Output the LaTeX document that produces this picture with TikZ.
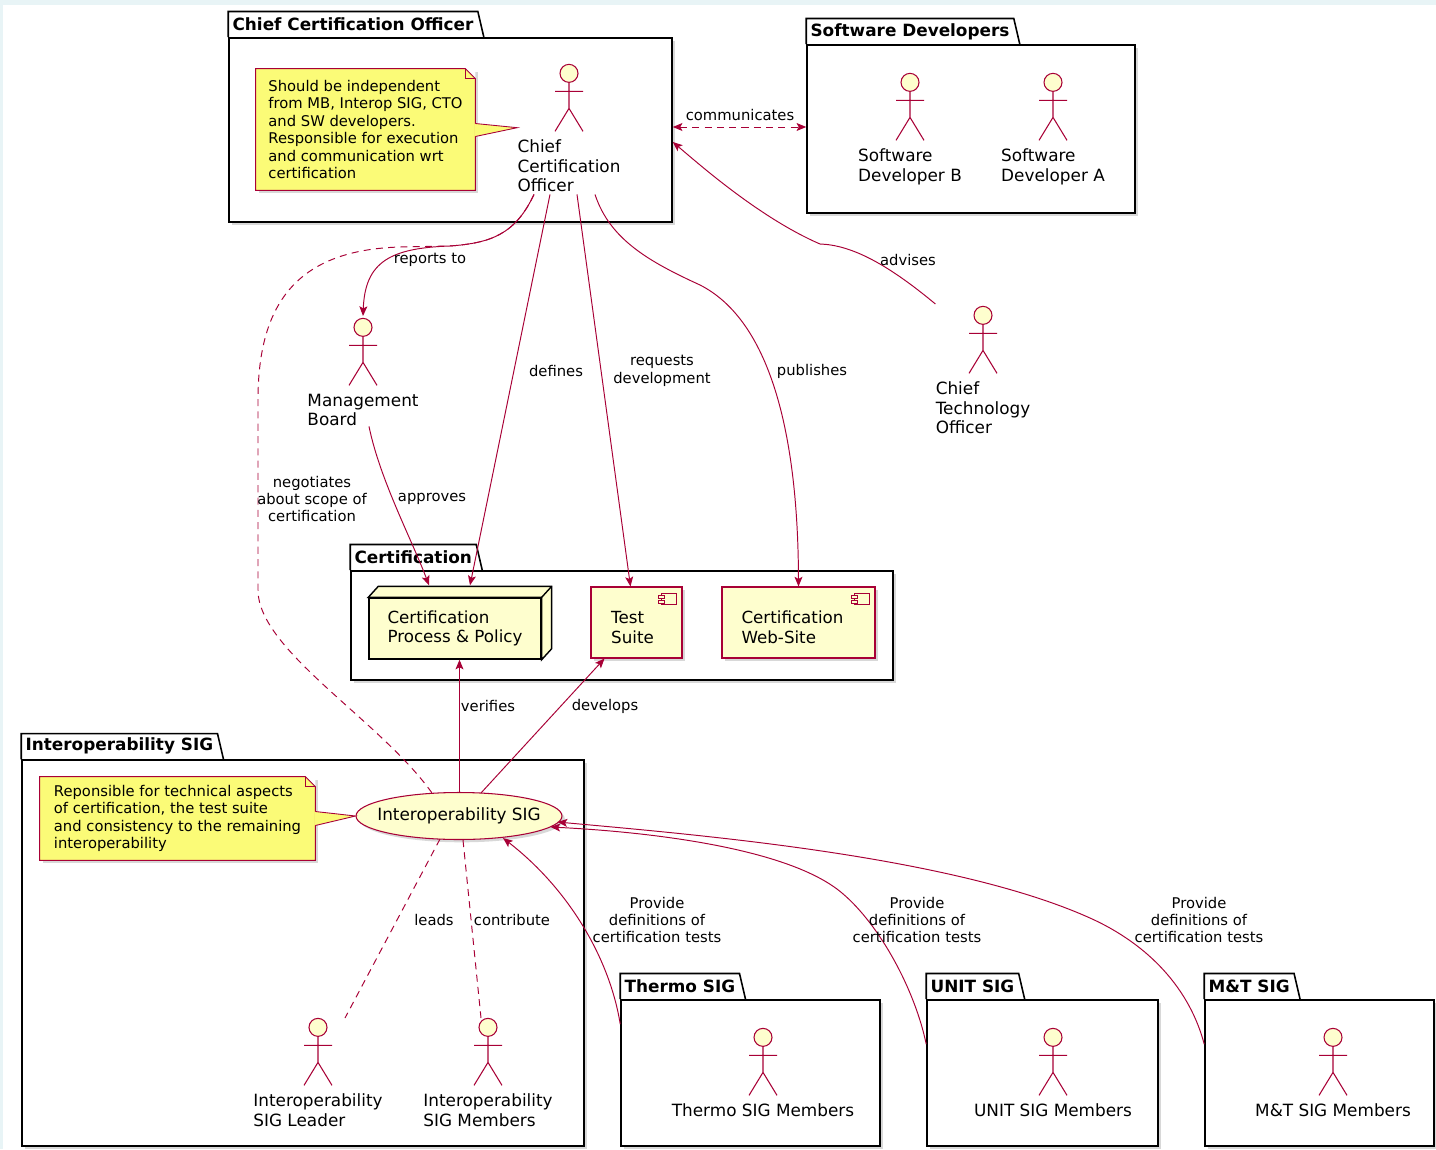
\documentclass[tikz,border=0pt]{standalone}
\usepackage{fontspec}
\setmainfont{DejaVu Sans}
\usepackage{tikz}
\usetikzlibrary{positioning,calc,shapes.geometric,shadows,arrows.meta}

\definecolor{umlred}{HTML}{A80036}
\definecolor{umlfill}{HTML}{FEFECE}
\definecolor{notefill}{HTML}{FBFB77}
\definecolor{bgframe}{HTML}{E8F4F6}

\tikzset{
	>={Stealth[length=5.5pt,width=4.5pt,inset=1.2pt]},
	ushadow/.style={drop shadow={shadow xshift=1.6pt,shadow yshift=-1.6pt,opacity=0.3}},
	pkgbody/.style={draw=black,fill=white,line width=0.9pt,inner sep=0pt,ushadow},
	pkgtitle/.style={font=\fontsize{9.6}{11}\selectfont\bfseries,inner xsep=0.08cm,inner ysep=0pt,minimum height=0.5cm,anchor=south west},
	pkgline/.style={draw=black,line width=0.9pt},
	actor/.style={minimum width=0.64cm,minimum height=1.42cm,inner sep=0pt,anchor=north,
		path picture={
			\draw[umlred,line width=0.6pt] ([shift={(0,20)}]path picture bounding box.north) -- ++(0,26) -- ++(-14,23) ++(14,-23) -- ++(14,23) ([shift={(-14,29)}]path picture bounding box.north) -- ++(28,0);
			\draw[umlred,fill=umlfill,line width=0.6pt] ([shift={(0,11)}]path picture bounding box.north) circle[radius=0.18cm];
		}},
	actorname/.style={font=\fontsize{9.6}{11.1}\selectfont,align=left,inner sep=0pt},
	comp/.style={draw=umlred,fill=umlfill,line width=0.6pt,ushadow,
		path picture={
			\draw[umlred,fill=umlfill,line width=0.5pt] ([shift={(-21,6)}]path picture bounding box.north east) rectangle ++(15,11);
			\draw[umlred,fill=umlfill,line width=0.5pt] ([shift={(-24,8)}]path picture bounding box.north east) rectangle ++(6,3);
			\draw[umlred,fill=umlfill,line width=0.5pt] ([shift={(-24,13)}]path picture bounding box.north east) rectangle ++(6,3);
		}},
	comptext/.style={align=left,inner sep=0pt,font=\fontsize{9.5}{11.1}\selectfont},
	usecase/.style={ellipse,draw=umlred,fill=umlfill,line width=0.6pt,inner sep=0pt,ushadow},
	umlnote/.style={fill=notefill,inner sep=0pt,align=left,font=\fontsize{8.4}{9.9}\selectfont,ushadow},
	noteline/.style={draw=umlred,line width=0.5pt},
	uline/.style={draw=umlred,line width=0.55pt},
	udash/.style={dash pattern=on 4pt off 3pt},
	elabel/.style={font=\fontsize{8.4}{9.9}\selectfont,align=center,inner sep=0pt},
}

\begin{document}
\begin{tikzpicture}[x=0.02cm,y=-0.02cm]
	\useasboundingbox (0,0) rectangle (1436,1149);
	\fill[bgframe] (0,0) rectangle (1436,1149);
	\fill[white] (3,5) rectangle (1436,1149);

	\node[pkgbody,minimum width=8.86cm,minimum height=3.68cm] (ccopkg) at (450.5,130) {};
	\node[pkgtitle] (ccotab) at (ccopkg.north west) {Chief Certification Officer};
	\draw[pkgline] (ccotab.south west) |- (ccotab.north east) -- ([shift={(6,0)}]ccotab.south east);
	\node[pkgbody,minimum width=6.56cm,minimum height=3.36cm] (sdpkg) at (971,129) {};
	\node[pkgtitle] (sdtab) at (sdpkg.north west) {Software Developers};
	\draw[pkgline] (sdtab.south west) |- (sdtab.north east) -- ([shift={(6,0)}]sdtab.south east);
	\node[pkgbody,minimum width=10.84cm,minimum height=2.18cm] (certpkg) at (622,625.5) {};
	\node[pkgtitle] (certtab) at (certpkg.north west) {Certification};
	\draw[pkgline] (certtab.south west) |- (certtab.north east) -- ([shift={(6,0)}]certtab.south east);
	\node[pkgbody,minimum width=11.24cm,minimum height=7.72cm] (isigpkg) at (303,953) {};
	\node[pkgtitle] (isigtab) at (isigpkg.north west) {Interoperability SIG};
	\draw[pkgline] (isigtab.south west) |- (isigtab.north east) -- ([shift={(6,0)}]isigtab.south east);
	\node[pkgbody,minimum width=5.18cm,minimum height=2.92cm] (thermopkg) at (750.5,1073) {};
	\node[pkgtitle] (thermotab) at (thermopkg.north west) {Thermo SIG};
	\draw[pkgline] (thermotab.south west) |- (thermotab.north east) -- ([shift={(6,0)}]thermotab.south east);
	\node[pkgbody,minimum width=4.62cm,minimum height=2.92cm] (unitpkg) at (1042.5,1073) {};
	\node[pkgtitle] (unittab) at (unitpkg.north west) {UNIT SIG};
	\draw[pkgline] (unittab.south west) |- (unittab.north east) -- ([shift={(6,0)}]unittab.south east);
	\node[pkgbody,minimum width=4.58cm,minimum height=2.92cm] (mtpkg) at (1319.5,1073) {};
	\node[pkgtitle] (mttab) at (mtpkg.north west) {M\&T SIG};
	\draw[pkgline] (mttab.south west) |- (mttab.north east) -- ([shift={(6,0)}]mttab.south east);

	\node[actor] (cco) at (569,62) {};
	\node[actorname,below=0.12cm of cco] (ccolab) {Chief\\Certification\\Officer};
	\node[actor] (sdb) at (910,71) {};
	\node[actorname,below=0.12cm of sdb] (sdblab) {Software\\Developer B};
	\node[actor] (sda) at (1053,71) {};
	\node[actorname,below=0.12cm of sda] (sdalab) {Software\\Developer A};
	\node[actor] (cto) at (983,304) {};
	\node[actorname,below=0.12cm of cto] (ctolab) {Chief\\Technology\\Officer};
	\node[actor] (mb) at (363,316) {};
	\node[actorname,below=0.12cm of mb] (mblab) {Management\\Board};
	\node[actor] (isleader) at (318,1016) {};
	\node[actorname,below=0.12cm of isleader] (isleaderlab) {Interoperability\\SIG Leader};
	\node[actor] (ismembers) at (488,1016) {};
	\node[actorname,below=0.12cm of ismembers] (ismemberslab) {Interoperability\\SIG Members};
	\node[actor] (thermo) at (763,1026) {};
	\node[actorname,below=0.12cm of thermo] (thermolab) {Thermo SIG Members};
	\node[actor] (unit) at (1053,1026) {};
	\node[actorname,below=0.12cm of unit] (unitlab) {UNIT SIG Members};
	\node[actor] (mt) at (1333,1026) {};
	\node[actorname,below=0.12cm of mt] (mtlab) {M\&T SIG Members};

	\node[umlnote,minimum width=4.38cm,minimum height=2.42cm] (ccnote) at (365.5,129.5) {Should be independent\\from MB, Interop SIG, CTO\\and SW developers.\\Responsible for execution\\and communication wrt\\certification};
	\fill[white] ([shift={(-10,0)}]ccnote.north east) -- (ccnote.north east) -- ([shift={(0,10)}]ccnote.north east) -- cycle;
	\draw[noteline] (ccnote.north west) -- ([shift={(-10,0)}]ccnote.north east) -- ([shift={(0,10)}]ccnote.north east) |- (ccnote.south west) -- cycle;
	\draw[noteline] ([shift={(-10,0)}]ccnote.north east) |- ([shift={(0,10)}]ccnote.north east);
	\coordinate (ccotip) at ([shift={(0,-12)}]ccolab.north west);
	\fill[notefill] ([shift={(-1,-6)}]ccnote.east) -- (ccotip) -- ([shift={(-1,7)}]ccnote.east) -- cycle;
	\draw[noteline] ([shift={(0,-6)}]ccnote.east) -- (ccotip) -- ([shift={(0,7)}]ccnote.east);

	\node[draw=black,fill=umlfill,line width=0.8pt,minimum width=3.44cm,minimum height=1.22cm,align=left,font=\fontsize{9.5}{11.1}\selectfont] (cpp) at (455,628.5) {Certification\\Process \& Policy};
	\filldraw[draw=black,fill=umlfill,line width=0.8pt] (cpp.north west) -- ([shift={(10,-11)}]cpp.north west) -- ([shift={(10,-11)}]cpp.north east) -- ([shift={(10,-11)}]cpp.south east) -- (cpp.south east) -- (cpp.north east) -- cycle;
	\draw[black,line width=0.8pt] (cpp.north east) -- ([shift={(10,-11)}]cpp.north east);
	\node[comp,minimum width=1.82cm,minimum height=1.42cm] (tsuite) at (636.5,622.5) {};
	\node[comptext] (tsuitetext) at ([shift={(-4,5)}]tsuite.center) {Test\\Suite};
	\node[comp,minimum width=3.06cm,minimum height=1.42cm] (website) at (798.5,622.5) {};
	\node[comptext] (websitetext) at ([shift={(-6,5)}]website.center) {Certification\\Web-Site};

	\node[usecase,minimum width=4.12cm,minimum height=0.94cm,label={[font=\fontsize{9.6}{11.1}\selectfont]center:Interoperability SIG}] (isig) at (459,816) {};
	\node[umlnote,minimum width=5.5cm,minimum height=1.66cm] (isnote) at (177.5,818.5) {Reponsible for technical aspects\\of certification, the test suite\\and consistency to the remaining\\interoperability};
	\fill[white] ([shift={(-10,0)}]isnote.north east) -- (isnote.north east) -- ([shift={(0,10)}]isnote.north east) -- cycle;
	\draw[noteline] (isnote.north west) -- ([shift={(-10,0)}]isnote.north east) -- ([shift={(0,10)}]isnote.north east) |- (isnote.south west) -- cycle;
	\draw[noteline] ([shift={(-10,0)}]isnote.north east) |- ([shift={(0,10)}]isnote.north east);
	\fill[notefill] ([shift={(-1,-7)}]isnote.east) -- (isig.west) -- ([shift={(-1,7)}]isnote.east) -- cycle;
	\draw[noteline] ([shift={(0,-7)}]isnote.east) -- (isig.west) -- ([shift={(0,7)}]isnote.east);

	\draw[uline,udash,<->] ([shift={(0,-3)}]ccopkg.east) -- ([shift={(0,-3)}]ccopkg.east -| sdpkg.west);
	\draw[uline,->] (cto.north -| ctolab.west) .. controls (885,262) and (850,245) .. (820,244) .. controls (760,218) and (700,165) .. ([shift={(0,12)}]ccopkg.east);
	\draw[uline,udash] ([shift={(-35,2)}]ccolab.south) .. controls (515,235) and (490,243) .. (450,246) -- (400,247) .. controls (300,250) and (258,300) .. (258,400) -- (258,590) .. controls (258,650) and (380,720) .. ([shift={(-27,1)}]isig.north);
	\draw[uline,->] ([shift={(-35,2)}]ccolab.south) .. controls (515,235) and (490,243) .. (450,246) .. controls (390,248) and (365,262) .. (mb.north);
	\draw[uline,->] ([shift={(-19,2)}]ccolab.south) -- ([shift={(15,-12)}]cpp.north);
	\draw[uline,->] ([shift={(8,2)}]ccolab.south) -- ([shift={(-6,0)}]tsuite.north);
	\draw[uline,->] ([shift={(26,2)}]ccolab.south) .. controls (610,240) and (650,262) .. (700,285) .. controls (765,318) and (798,420) .. (website.north);
	\draw[uline,->] ([shift={(6,0)}]mblab.south) .. controls (380,480) and (412,540) .. ([shift={(-26,-12)}]cpp.north);
	\draw[uline,->] ([shift={(0.5,0)}]isig.north) -- ([shift={(0.5,0)}]isig.north |- cpp.south);
	\draw[uline,->] ([shift={(22,1)}]isig.north) -- ([shift={(-32,0)}]tsuite.south);
	\draw[uline,udash] ([shift={(-19,-1)}]isig.south) -- ([shift={(27,2)}]isleader.north);
	\draw[uline,udash] ([shift={(4,0)}]isig.south) -- ([shift={(-7,2)}]ismembers.north);
	\draw[uline,->] ([shift={(0,25)}]thermopkg.north west) .. controls (610,960) and (570,890) .. ([shift={(44,-2)}]isig.south);
	\draw[uline,->] ([shift={(0,45)}]unitpkg.north west) .. controls (915,990) and (880,925) .. (842,893) .. controls (789,848) and (650,832) .. ([shift={(-12,11)}]isig.east);
	\draw[uline,->] ([shift={(0,45)}]mtpkg.north west) .. controls (1190,990) and (1150,945) .. (1090,918) .. controls (952,856) and (700,835) .. ([shift={(-5,6)}]isig.east);

	\node[elabel] (lcomm) at (740,115) {communicates};
	\node[elabel] (ladv) at (908,260) {advises};
	\node[elabel] (lrep) at (430,260) {reports to};
	\node[elabel] (ldef) at (556,371) {defines};
	\node[elabel] (lreq) at (662,371) {requests\\development};
	\node[elabel] (lpub) at (812,371) {publishes};
	\node[elabel] (lneg) at (312,499) {negotiates\\about scope of\\certification};
	\node[elabel] (lappr) at (432,499) {approves};
	\node[elabel] (lver) at (488,706) {verifies};
	\node[elabel] (ldev) at (605,706) {develops};
	\node[elabel] (llead) at (434,920) {leads};
	\node[elabel] (lcontr) at (512,920) {contribute};
	\node[elabel] (lprov1) at (657,920) {Provide\\definitions of\\certification tests};
	\node[elabel] (lprov2) at (917,920) {Provide\\definitions of\\certification tests};
	\node[elabel] (lprov3) at (1199,920) {Provide\\definitions of\\certification tests};
\end{tikzpicture}
\end{document}
